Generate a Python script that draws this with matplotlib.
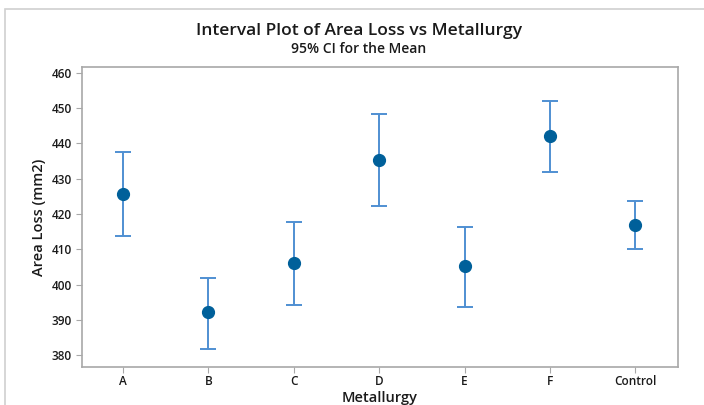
import numpy as np
import matplotlib.pyplot as plt
from matplotlib.patches import Rectangle

plt.rcParams['font.family'] = ['Open Sans', 'DejaVu Sans']

groups = ['A', 'B', 'C', 'D', 'E', 'F', 'Control']
means = [425.7, 392.1, 406.1, 435.2, 405.2, 442.0, 416.9]
upper = [437.6, 401.8, 417.7, 448.3, 416.3, 452.1, 423.8]
lower = [413.8, 381.6, 394.2, 422.2, 393.6, 431.9, 410.1]

means = np.array(means)
yerr = np.array([means - np.array(lower), np.array(upper) - means])
x = np.arange(len(groups))

fig = plt.figure(figsize=(7.04, 4.05), dpi=100)
fig.patches.append(Rectangle((5 / 704, -0.01), 1.0, 1 - 9 / 405 + 0.01,
                             transform=fig.transFigure, fill=False,
                             edgecolor='#d0d0d0', linewidth=1.2))
ax = fig.add_axes([82 / 704, 1 - 367 / 405, 596 / 704, 300 / 405])

ax.errorbar(x, means, yerr=yerr, fmt='none', ecolor='#4f8fd2',
            elinewidth=1.4, capsize=6, capthick=1.4)
ax.plot(x, means, 'o', color='#00609a', markersize=8.5)

ax.set_xlim(-0.48, 6.5)
ax.set_ylim(376.6, 461.7)
ax.set_xticks(x)
ax.set_xticklabels(groups)
ax.set_yticks(np.arange(380, 461, 10))

for s in ax.spines.values():
    s.set_color('#a8a8a8')
    s.set_linewidth(1.2)
ax.tick_params(colors='#a8a8a8', labelcolor='#1a1a1a', labelsize=8.5, length=4)
ax.tick_params(axis='x', pad=2)
for lab in ax.get_xticklabels() + ax.get_yticklabels():
    lab.set_fontweight('semibold')

ax.set_xlabel('Metallurgy', fontsize=10.5, color='#1a1a1a', labelpad=2,
              fontweight='semibold')
ax.set_ylabel('Area Loss (mm2)', fontsize=10.5, color='#1a1a1a', labelpad=4,
              fontweight='semibold')

fig.text(0.51, 1 - 31 / 405, 'Interval Plot of Area Loss vs Metallurgy',
         ha='center', va='center', fontsize=12.5, color='#1a1a1a',
         fontweight='semibold')
fig.text(0.51, 1 - 49 / 405, '95% CI for the Mean',
         ha='center', va='center', fontsize=10, color='#1a1a1a',
         fontweight='semibold')

fig.savefig('out.png', dpi=100)
